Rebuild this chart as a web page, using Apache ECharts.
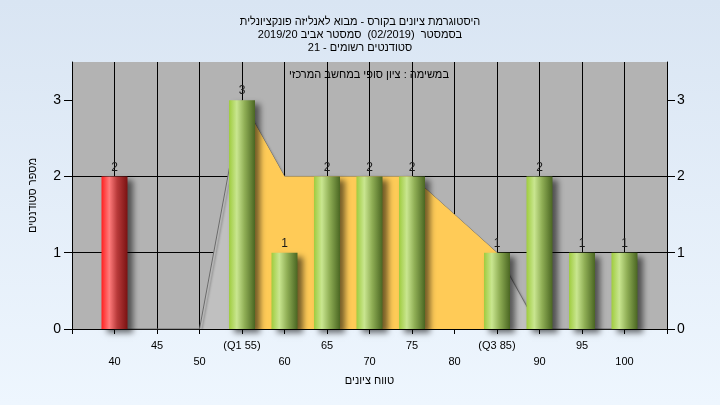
<!DOCTYPE html>
<html>
<head>
<meta charset="utf-8">
<script src="https://cdn.jsdelivr.net/npm/echarts@6/dist/echarts.min.js"></script>
<style>html,body{margin:0;padding:0;} #c{width:720px;height:405px;}</style>
</head>
<body>
<div id="c"></div>
<script>
// ---- data ----
const grades = [40, 45, 50, 55, 60, 65, 70, 75, 80, 85, 90, 95, 100];
const counts = [2, 0, 0, 3, 1, 2, 2, 2, 0, 1, 2, 1, 1];
const curveValues = [0, 0, 0, 3, 2, 2, 2, 2, 1.5, 1, 0, 0, 0];
const iqrGrades = [55, 60, 65, 70, 75, 80, 85];
const iqrValues = [3, 2, 2, 2, 2, 1.5, 1];
const xTickLabels = ['40', '45', '50', '(Q1 55)', '60', '65', '70', '75', '80', '(Q3 85)', '90', '95', '100'];
const yTickValues = [0, 1, 2, 3];
const titleLines = [
  'היסטוגרמת ציונים בקורס - מבוא לאנליזה פונקציונלית',
  'בסמסטר  (02/2019)  סמסטר אביב 2019/20',
  'סטודנטים רשומים - 21'
];
const subTitle = 'במשימה : ציון סופי במחשב המרכזי';
const yName = 'מספר סטודנטים';
const xName = 'טווח ציונים';
const passGrade = 55;

// ---- styling ----
const FONT = 'Liberation Sans, DejaVu Sans, sans-serif';
function grad(c0, c1, c2, c3) {
  return new echarts.graphic.LinearGradient(0, 0, 1, 0, [
    {offset: 0, color: c0}, {offset: 0.3, color: c1}, {offset: 0.6, color: c2}, {offset: 1, color: c3}
  ]);
}
const greenGrad = grad('#9fcc3e', '#c9e690', '#8fae55', '#4a6622');
const redGrad = grad('#ff2020', '#ff7c7c', '#b83a3a', '#7a1212');

const barData = grades.map((g, i) => ({
  value: [g, counts[i]],
  itemStyle: {color: g < passGrade ? redGrad : greenGrad}
}));
const curveData = grades.map((g, i) => [g, curveValues[i]]);
const iqrData = iqrGrades.map((g, i) => [g, iqrValues[i]]);

const yAxisCommon = {
  type: 'value', min: 0, max: 3.5, interval: 1,
  axisLine: {show: true, lineStyle: {color: '#000', width: 1}},
  axisTick: {show: true, length: 8, lineStyle: {color: '#000'}, customValues: yTickValues},
  axisLabel: {fontSize: 14, color: '#000', fontFamily: FONT, customValues: yTickValues,
    formatter: v => (yTickValues.indexOf(v) >= 0 ? String(v) : '')}
};

const chart = echarts.init(document.getElementById('c'), null, {renderer: 'canvas'});
chart.setOption({
  animation: false,
  backgroundColor: new echarts.graphic.LinearGradient(0, 0, 0, 1, [
    {offset: 0, color: '#d9e5f3'}, {offset: 1, color: '#eef6fe'}
  ]),
  title: {
    text: titleLines.join('\n'), left: 'center', top: 10,
    textStyle: {fontSize: 11, fontWeight: 'normal', color: '#000', fontFamily: FONT, lineHeight: 13}
  },
  graphic: [{
    type: 'text', x: 369, y: 75, z: 10,
    style: {text: subTitle, align: 'center', verticalAlign: 'middle', fill: '#000',
      font: '11px ' + FONT}
  }],
  grid: {left: 72, right: 53, top: 62, bottom: 76, show: true, backgroundColor: '#b3b3b3', borderWidth: 0},
  xAxis: {
    type: 'value', min: 35, max: 105, interval: 5,
    name: xName, nameLocation: 'middle', nameGap: 46,
    nameTextStyle: {fontSize: 11, color: '#000', fontFamily: FONT},
    axisLine: {show: true, lineStyle: {color: '#000'}},
    axisTick: {show: true, length: 5, lineStyle: {color: '#000'}},
    splitLine: {show: true, lineStyle: {color: '#000', width: 1}},
    axisLabel: {
      fontSize: 11, color: '#000', fontFamily: FONT, margin: 9, lineHeight: 16,
      showMinLabel: true, showMaxLabel: true,
      formatter: v => {
        const i = grades.indexOf(v);
        if (i < 0) return '';
        return i % 2 === 1 ? xTickLabels[i] : ' \n' + xTickLabels[i];
      }
    }
  },
  yAxis: [
    Object.assign({}, yAxisCommon, {
      position: 'left',
      name: yName, nameLocation: 'middle', nameGap: 34, nameRotate: 90,
      nameTextStyle: {fontSize: 11, color: '#000', fontFamily: FONT},
      axisLabel: Object.assign({}, yAxisCommon.axisLabel, {margin: 11}),
      splitLine: {show: true, showMinLine: false, showMaxLine: false, lineStyle: {color: '#000', width: 1}}
    }),
    Object.assign({}, yAxisCommon, {
      position: 'right',
      axisLabel: Object.assign({}, yAxisCommon.axisLabel, {margin: 10}),
      splitLine: {show: false}
    })
  ],
  series: [
    {
      type: 'line', data: curveData, symbol: 'none', z: 2,
      lineStyle: {color: '#6a6a6a', width: 1, shadowColor: 'rgba(0,0,0,0.35)', shadowBlur: 2, shadowOffsetX: 2, shadowOffsetY: 3},
      areaStyle: {color: '#c0c0c0', opacity: 1}
    },
    {
      type: 'line', data: iqrData, symbol: 'none', z: 3,
      lineStyle: {width: 0},
      areaStyle: {color: '#ffcb57', opacity: 1}
    },
    {
      type: 'bar', data: barData, barWidth: 26, z: 4,
      itemStyle: {shadowColor: 'rgba(0,0,0,0.55)', shadowBlur: 6, shadowOffsetX: 5, shadowOffsetY: 4},
      label: {
        show: true, position: 'top', distance: 3, fontSize: 12, color: '#1a1a1a', fontFamily: FONT,
        formatter: p => (p.value[1] > 0 ? String(p.value[1]) : '')
      }
    }
  ]
});
</script>
</body>
</html>
